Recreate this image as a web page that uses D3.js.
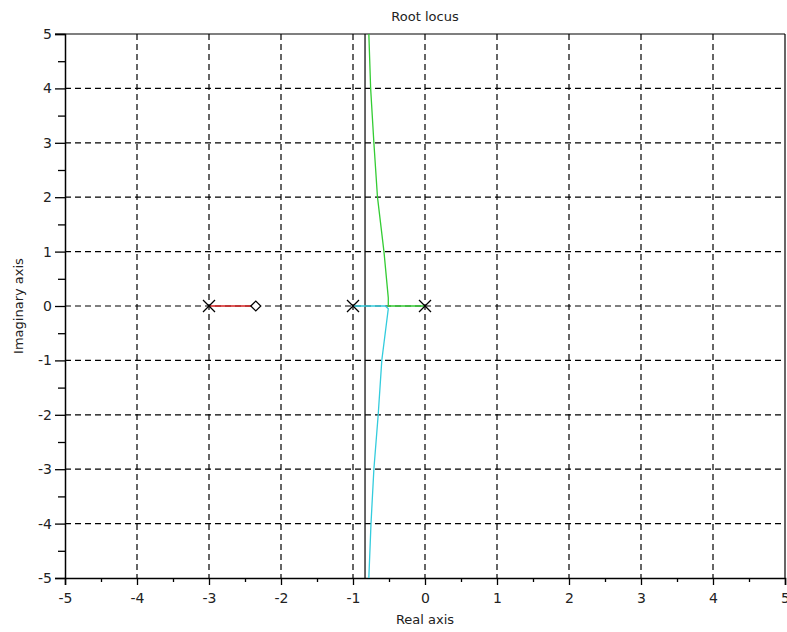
<!DOCTYPE html>
<html><head><meta charset="utf-8">
<script src="https://cdn.jsdelivr.net/npm/d3@7"></script>
<style>body{margin:0;background:#fff}svg{display:block;font-family:"DejaVu Sans",sans-serif}</style>
</head><body><svg id="c" width="787" height="632"></svg>
<script>
const xTicks = [-5,-4,-3,-2,-1,0,1,2,3,4,5];
const yTicks = [-5,-4,-3,-2,-1,0,1,2,3,4,5];
const minorTicks = [-4.5,-3.5,-2.5,-1.5,-0.5,0.5,1.5,2.5,3.5,4.5];
const poles = [[-3,0],[-1,0],[0,0]];
const zeros = [[-2.35,0]];
const asymptoteX = -0.833;
const branchRed = [[-3,0],[-2.35,0]];
const branchGreen = [[0,0],[-0.51,0],[-0.51,0.15],[-0.57,1],[-0.66,2],[-0.71,3],[-0.755,4],[-0.78,5]];
const branchCyan = [[-1,0],[-0.55,0],[-0.51,-0.05],[-0.6,-1],[-0.65,-2],[-0.71,-3],[-0.75,-4],[-0.78,-5]];

const svg = d3.select("#c");
const L=65,R=785,T=34,B=578;
const x = d3.scaleLinear().domain([-5,5]).range([L,R]);
const y = d3.scaleLinear().domain([-5,5]).range([B,T]);
const fmt = d => String(d);

// grid
const g = svg.append("g");
xTicks.slice(1,-1).forEach(t=>g.append("line").attr("x1",x(t)).attr("x2",x(t)).attr("y1",T).attr("y2",B)
  .attr("stroke","#000").attr("stroke-width",1.2).attr("stroke-dasharray","6,4"));
yTicks.slice(1,-1).forEach(t=>g.append("line").attr("x1",L).attr("x2",R).attr("y1",y(t)).attr("y2",y(t))
  .attr("stroke","#000").attr("stroke-width",1.2).attr("stroke-dasharray","6,4"));

// frame top/right
svg.append("line").attr("x1",L-10).attr("x2",R).attr("y1",T).attr("y2",T).attr("stroke","#000").attr("stroke-width",1.2);
svg.append("line").attr("x1",R).attr("x2",R).attr("y1",T).attr("y2",B).attr("stroke","#000").attr("stroke-width",1.2);

// axes
svg.append("g").attr("transform",`translate(0,${B})`)
  .call(d3.axisBottom(x).tickValues(xTicks).tickFormat(fmt).tickSizeOuter(0).tickSize(7).tickPadding(8));
svg.append("g").attr("transform",`translate(0,${B})`)
  .call(d3.axisBottom(x).tickValues(minorTicks).tickFormat("").tickSizeOuter(0).tickSize(4))
  .select(".domain").remove();
svg.append("g").attr("transform",`translate(${L},0)`)
  .call(d3.axisLeft(y).tickValues(yTicks).tickFormat(fmt).tickSizeOuter(0).tickSize(10).tickPadding(3));
svg.append("g").attr("transform",`translate(${L},0)`)
  .call(d3.axisLeft(y).tickValues(minorTicks).tickFormat("").tickSizeOuter(0).tickSize(7))
  .select(".domain").remove();
svg.selectAll(".domain").attr("stroke-width",1.5);
svg.selectAll(".tick line").attr("stroke-width",1.3);
svg.selectAll(".tick text").attr("font-size",14).attr("font-family","DejaVu Sans, sans-serif").attr("fill","#222");

// asymptote
svg.append("line").attr("x1",x(asymptoteX)).attr("x2",x(asymptoteX)).attr("y1",T).attr("y2",B)
  .attr("stroke","#000").attr("stroke-width",1.2);

const line = d3.line().x(d=>x(d[0])).y(d=>y(d[1]));
svg.append("path").attr("d",line(branchRed)).attr("fill","none").attr("stroke","#d42020").attr("stroke-width",1.3);
svg.append("path").attr("d",line(branchGreen)).attr("fill","none").attr("stroke","#33cc33").attr("stroke-width",1.3);
svg.append("path").attr("d",line(branchCyan)).attr("fill","none").attr("stroke","#33ccdd").attr("stroke-width",1.3);

// poles
poles.forEach(p=>{
  const cx=x(p[0]),cy=y(p[1]),s=6;
  svg.append("path").attr("d",`M${cx-s},${cy-s}L${cx+s},${cy+s}M${cx-s},${cy+s}L${cx+s},${cy-s}`)
    .attr("stroke","#000").attr("stroke-width",1.3);
});
zeros.forEach(p=>{
  const cx=x(p[0]),cy=y(p[1]),s=5;
  svg.append("path").attr("d",`M${cx-s},${cy}L${cx},${cy-s}L${cx+s},${cy}L${cx},${cy+s}Z`)
    .attr("stroke","#000").attr("stroke-width",1.2).attr("fill","#fff");
});

svg.append("text").attr("x",425).attr("y",21).attr("text-anchor","middle").attr("font-size",13).attr("fill","#222").text("Root locus");
svg.append("text").attr("x",425).attr("y",624).attr("text-anchor","middle").attr("font-size",13).attr("fill","#222").text("Real axis");
svg.append("text").attr("transform","translate(23,306) rotate(-90)").attr("text-anchor","middle").attr("font-size",13).attr("fill","#222").text("Imaginary axis");
</script></body></html>
